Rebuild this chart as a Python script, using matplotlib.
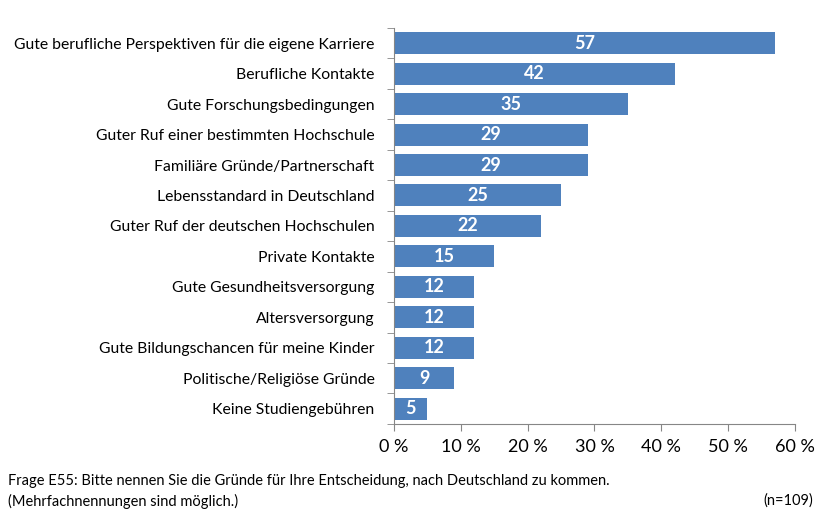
import matplotlib.pyplot as plt
import numpy as np
from matplotlib.ticker import FixedLocator, FuncFormatter

plt.rcParams["font.family"] = ["Lato", "DejaVu Sans"]

categories = [
    "Gute berufliche Perspektiven für die eigene Karriere",
    "Berufliche Kontakte",
    "Gute Forschungsbedingungen",
    "Guter Ruf einer bestimmten Hochschule",
    "Familiäre Gründe/Partnerschaft",
    "Lebensstandard in Deutschland",
    "Guter Ruf der deutschen Hochschulen",
    "Private Kontakte",
    "Gute Gesundheitsversorgung",
    "Altersversorgung",
    "Gute Bildungschancen für meine Kinder",
    "Politische/Religiöse Gründe",
    "Keine Studiengebühren",
]
values = [57, 42, 35, 29, 29, 25, 22, 15, 12, 12, 12, 9, 5]
x_ticks = [0, 10, 20, 30, 40, 50, 60]

BAR = "#4F81BD"
AXIS = "#868686"

fig = plt.figure(figsize=(8.25, 5.17), dpi=100)
ax = fig.add_axes([0.4776, 0.18, 0.486, 0.766])

y = np.arange(len(categories))
ax.barh(y, values, height=0.72, color=BAR, zorder=2)
for yi, v in zip(y, values):
    ax.text(v / 2, yi, str(v), ha="center", va="center", color="white",
            fontsize=13, fontweight="bold")

ax.set_ylim(len(categories) - 0.5, -0.5)
ax.set_xlim(0, 60)
ax.set_yticks(y)
ax.set_yticklabels(categories, fontsize=11.3)
ax.tick_params(axis="y", length=0, pad=14)
ax.yaxis.set_minor_locator(FixedLocator(np.arange(-0.5, len(categories), 1.0)))
ax.tick_params(axis="y", which="minor", length=5, color=AXIS, direction="out")

ax.set_xticks(x_ticks)
ax.xaxis.set_major_formatter(FuncFormatter(lambda v, p: f"{int(v)} %"))
ax.tick_params(axis="x", length=5, color=AXIS, labelsize=13, pad=6)

for s in ["top", "right"]:
    ax.spines[s].set_visible(False)
for s in ["left", "bottom"]:
    ax.spines[s].set_color(AXIS)

fig.text(0.01, 0.07, "Frage E55: Bitte nennen Sie die Gründe für Ihre Entscheidung, nach Deutschland zu kommen.",
         fontsize=10.5, va="center")
fig.text(0.01, 0.031, "(Mehrfachnennungen sind möglich.)", fontsize=10.5, va="center")
fig.text(0.985, 0.031, "(n=109)", fontsize=10.5, va="center", ha="right")

fig.savefig("out.png", dpi=100)
